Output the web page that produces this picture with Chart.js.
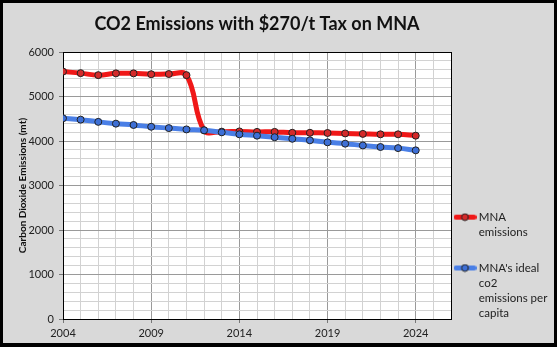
<!DOCTYPE html>
<html lang="en">
<head>
<meta charset="UTF-8">
<title>CO2 Emissions with $270/t Tax on MNA</title>
<script src="https://cdn.jsdelivr.net/npm/chart.js"></script>
<style>
  html, body { margin: 0; padding: 0; background: #fff; }
  #frame { width: 557px; height: 347px; box-sizing: border-box; border: 3px solid #000; border-bottom-width: 4px; background: #d9d9d9; }
  #frame canvas { display: block; }
</style>
</head>
<body>
<div id="frame"><canvas id="myChart" width="551" height="340"></canvas></div>

<script>
    // data (mt CO2)
    const years = [2004, 2005, 2006, 2007, 2008, 2009, 2010, 2011, 2012, 2013, 2014,
                   2015, 2016, 2017, 2018, 2019, 2020, 2021, 2022, 2023, 2024];
    const mnaEmissions = [5560, 5525, 5480, 5520, 5520, 5500, 5505, 5480, 4240, 4210, 4215,
                          4205, 4205, 4185, 4185, 4180, 4170, 4160, 4150, 4150, 4120];
    const idealEmissions = [4510, 4480, 4430, 4390, 4360, 4320, 4290, 4260, 4240, 4195, 4150,
                            4120, 4085, 4050, 4015, 3970, 3940, 3900, 3865, 3840, 3790];
    const seriesNames = ['MNA emissions', "MNA's ideal co2 emissions per capita"];
    const legendLines = [['MNA', 'emissions', ''], ["MNA's ideal", 'co2', 'emissions per', 'capita']];
    const xTickYears = [2004, 2009, 2014, 2019, 2024];

    Chart.defaults.font.family = 'Lato';
    Chart.defaults.color = '#222';

    const lineColors = ['#f01818', '#4a7fe6'];
    const dotColors = ['#d42a2a', '#3d6fd6'];

    // little line-with-dot swatch like the spreadsheet legend
    function legendSymbol(line, dot) {
        const c = document.createElement('canvas');
        c.width = 23; c.height = 9;
        const g = c.getContext('2d');
        g.strokeStyle = line; g.lineWidth = 5; g.lineCap = 'round';
        g.beginPath(); g.moveTo(2.5, 4.5); g.lineTo(20.5, 4.5); g.stroke();
        g.beginPath(); g.arc(11.5, 4.5, 3.4, 0, Math.PI * 2);
        g.fillStyle = dot; g.fill();
        g.lineWidth = 1; g.strokeStyle = '#222'; g.stroke();
        return c;
    }
    const symbols = [legendSymbol(lineColors[0], dotColors[0]), legendSymbol(lineColors[1], dotColors[1])];

    const plotBg = {
        id: 'plotBg',
        beforeDraw(chart) {
            const {ctx, chartArea: a} = chart;
            ctx.save();
            ctx.fillStyle = '#fff';
            ctx.fillRect(a.left, a.top, a.right - a.left, a.bottom - a.top);
            ctx.restore();
        }
    };

    const ctx = document.getElementById('myChart').getContext('2d');
    new Chart(ctx, {
        type: 'line',
        data: {
            datasets: [
                {
                    label: seriesNames[0],
                    data: years.map((y, i) => ({x: y, y: mnaEmissions[i]})),
                    borderColor: lineColors[0],
                    backgroundColor: dotColors[0],
                    borderWidth: 5,
                    tension: 0.4,
                    pointRadius: 3.5,
                    pointBackgroundColor: dotColors[0],
                    pointBorderColor: '#222',
                    pointBorderWidth: 1,
                    order: 1
                },
                {
                    label: seriesNames[1],
                    data: years.map((y, i) => ({x: y, y: idealEmissions[i]})),
                    borderColor: lineColors[1],
                    backgroundColor: dotColors[1],
                    borderWidth: 5,
                    tension: 0.4,
                    pointRadius: 3.5,
                    pointBackgroundColor: dotColors[1],
                    pointBorderColor: '#222',
                    pointBorderWidth: 1,
                    order: 0
                }
            ]
        },
        options: {
            responsive: false,
            animation: false,
            layout: { padding: 0 },
            scales: {
                x: {
                    type: 'linear',
                    min: 2004,
                    max: 2026,
                    afterFit: s => { s.height = 24; },
                    border: { color: '#000', width: 1 },
                    grid: {
                        tickLength: 4,
                        color: c => c.tick.value === 2026 ? '#000' : ((c.tick.value - 2004) % 5 === 0 ? '#9a9a9a' : '#d2d2d2'),
                        tickColor: c => (c.tick.value - 2004) % 5 === 0 ? '#777' : 'rgba(0,0,0,0)'
                    },
                    ticks: {
                        stepSize: 1,
                        autoSkip: false,
                        maxRotation: 0,
                        padding: 4,
                        font: { size: 11 },
                        callback: v => xTickYears.includes(v) ? String(v) : ''
                    }
                },
                y: {
                    min: 0,
                    max: 6000,
                    afterFit: s => { s.width = 60; },
                    border: { color: '#000', width: 1 },
                    grid: {
                        tickLength: 4,
                        color: c => c.tick.value === 6000 ? '#000' : (c.tick.value % 1000 === 0 ? '#9a9a9a' : '#d2d2d2'),
                        tickColor: c => c.tick.value % 1000 === 0 ? '#777' : 'rgba(0,0,0,0)'
                    },
                    ticks: {
                        stepSize: 200,
                        autoSkip: false,
                        padding: 5,
                        font: { size: 11 },
                        callback: v => v % 1000 === 0 ? String(v) : ''
                    },
                    title: {
                        display: true,
                        text: 'Carbon Dioxide Emissions (mt)',
                        color: '#111',
                        font: { size: 10, weight: 'bold' },
                        padding: { top: 14, bottom: 0 }
                    }
                }
            },
            plugins: {
                title: {
                    display: true,
                    fullSize: false,
                    text: 'CO2 Emissions with $270/t Tax on MNA',
                    color: '#111',
                    font: { size: 18, weight: 'bold' },
                    padding: { top: 10, bottom: 17.4 }
                },
                legend: {
                    position: 'right',
                    align: 'start',
                    maxWidth: 103,
                    title: { display: true, text: ' ', font: { size: 12 }, padding: { top: 188, bottom: 0 } },
                    labels: {
                        usePointStyle: true,
                        pointStyleWidth: 16,
                        padding: 6,
                        font: { size: 11.5, lineHeight: 1.3 },
                        generateLabels: chart => [0, 1].map(i => ({
                            text: legendLines[i],
                            pointStyle: symbols[i],
                            datasetIndex: i,
                            fontColor: '#222',
                            hidden: !chart.isDatasetVisible(i),
                            lineWidth: 0,
                            strokeStyle: 'rgba(0,0,0,0)',
                            fillStyle: 'rgba(0,0,0,0)'
                        }))
                    }
                },
                tooltip: { enabled: false }
            }
        },
        plugins: [plotBg]
    });
</script>
</body>
</html>
